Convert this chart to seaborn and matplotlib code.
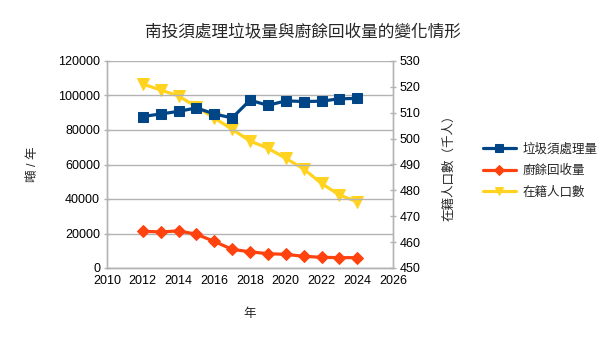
import matplotlib
matplotlib.use("Agg")
import matplotlib.pyplot as plt
import seaborn as sns
import pandas as pd

years = [2012, 2013, 2014, 2015, 2016, 2017, 2018, 2019, 2020, 2021, 2022, 2023, 2024]
waste = [87800, 89300, 90800, 92800, 89300, 87000, 97300, 94300, 96900, 96500, 96700, 98100, 98300]
food = [21300, 20900, 21500, 19600, 15400, 10800, 9400, 8300, 7900, 6800, 6200, 6000, 6000]
population = [521.1, 518.8, 516.5, 512.3, 508.0, 503.6, 499.1, 496.3, 492.4, 488.3, 482.7, 478.2, 475.6]

series_names = ["垃圾須處理量", "廚餘回收量", "在籍人口數"]
title = "南投須處理垃圾量與廚餘回收量的變化情形"
x_ticks = list(range(2010, 2027, 2))
left_ticks = list(range(0, 120001, 20000))
right_ticks = list(range(450, 531, 10))

sns.set_theme(style="white")
plt.rcParams['font.family'] = ['Liberation Sans', 'Noto Sans CJK TC', 'DejaVu Sans']

df = pd.DataFrame({"year": years, "waste": waste, "food": food, "pop": population})

fig = plt.figure(figsize=(6.05, 3.4), dpi=100)
ax = fig.add_axes([107/605, 1-268/340, (393-107)/605, (268-61)/340])
ax2 = ax.twinx()

blue = "#004586"
orange = "#ff420e"
yellow = "#ffd320"
grid = "#b3b3b3"

sns.lineplot(data=df, x="year", y="pop", ax=ax2, color=yellow, linewidth=2.3,
             marker="v", markersize=8, markeredgecolor=yellow, label=series_names[2], legend=False)
sns.lineplot(data=df, x="year", y="food", ax=ax, color=orange, linewidth=2.3,
             marker="D", markersize=6, markeredgecolor=orange, label=series_names[1], legend=False)
sns.lineplot(data=df, x="year", y="waste", ax=ax, color=blue, linewidth=2.3,
             marker="s", markersize=7, markeredgecolor=blue, label=series_names[0], legend=False)

ax.set_zorder(ax2.get_zorder() + 1)
ax.patch.set_visible(False)

ax.set_xlim(2010, 2026)
ax.set_ylim(0, 120000)
ax2.set_ylim(450, 530)
ax.set_xticks(x_ticks)
ax.set_yticks(left_ticks)
ax2.set_yticks(right_ticks)

ax.yaxis.grid(True, color=grid, linewidth=1)
ax.xaxis.grid(False)
ax2.grid(False)

for a in (ax, ax2):
    for s in a.spines.values():
        s.set_color(grid)
        s.set_linewidth(1)
    a.spines['top'].set_visible(False)
    a.tick_params(axis='both', colors=grid, labelcolor="#000000", labelsize=9,
                  length=4, width=1, direction='inout', pad=3)

ax.set_xlabel("年", fontsize=9, labelpad=15)
ax.set_ylabel("噸 / 年", fontsize=9, labelpad=14)
ax2.set_ylabel("在籍人口數（千人）", fontsize=9, labelpad=16)

fig.text(0.5, 1-32/340, title, ha="center", va="center", fontsize=12)

h1, l1 = ax.get_legend_handles_labels()
h2, l2 = ax2.get_legend_handles_labels()
handles = {l: h for h, l in zip(h1 + h2, l1 + l2)}
fig.legend([handles[n] for n in series_names], series_names,
           loc="center left", bbox_to_anchor=(478/605, 1-171/340),
           frameon=False, fontsize=9, handlelength=2.6, labelspacing=0.75,
           borderaxespad=0, handletextpad=0.6, markerscale=0.8)

fig.savefig("out.png", dpi=100)
